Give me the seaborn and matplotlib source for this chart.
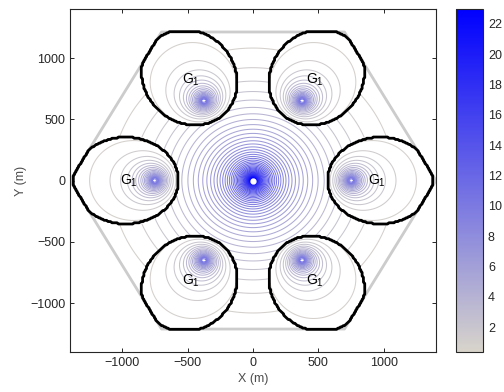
import numpy as np
import matplotlib
matplotlib.use("Agg")
import matplotlib.pyplot as plt
import seaborn as sns

sns.set_style("ticks")
plt.rcParams['font.family'] = ['Liberation Sans', 'DejaVu Sans']
plt.rcParams['mathtext.fontset'] = 'custom'
plt.rcParams['mathtext.rm'] = 'Liberation Sans'

# network layout
hex_radius = 1400.0                      # m, vertex of the cell hexagon
small_dist = 750.0                       # m, macro -> small cell
small_angles = [0, 60, 120, 180, 240, 300]
alpha_macro = 4.0
alpha_small = 2.83
p_small = 2.28e-5                        # small cell power / macro power
noise_macro = 9.3e-13
noise_small = 1e-13
d_min = 19.0
label_dist = 950.0
label_text = r'G$_\mathregular{1}$'

xy_ticks = [-1000, -500, 0, 500, 1000]
cbar_ticks = [2, 4, 6, 8, 10, 12, 14, 16, 18, 20, 22]
low_color = "#d8d4cb"
high_color = "#0000ff"

# grid
step = 10.0
g = np.arange(-hex_radius, hex_radius + step, step)
X, Y = np.meshgrid(g, g)
inside = (np.abs(Y) <= hex_radius * np.sqrt(3) / 2) & \
         (np.sqrt(3) * np.abs(X) + np.abs(Y) <= np.sqrt(3) * hex_radius)

ang = np.deg2rad(small_angles)
sx = small_dist * np.cos(ang)
sy = small_dist * np.sin(ang)

d_m = np.maximum(np.hypot(X, Y), d_min)
s_m = d_m ** -alpha_macro
s_s = np.array([p_small * np.maximum(np.hypot(X - a, Y - b), d_min) ** -alpha_small
                for a, b in zip(sx, sy)])
s_best = s_s.max(axis=0)
small_sum = s_s.sum(axis=0)

# macro users see a flat noise floor, small-cell users see the macro + other small cells
sinr_m = s_m / noise_macro
sinr_s = s_best / (s_m + small_sum - s_best + noise_small)
g1 = (s_best > s_m) & inside
field = np.log2(1 + np.where(g1, sinr_s, sinr_m))
field = np.ma.masked_where(~inside, field)

vmin, vmax = float(field.min()), float(field.max())
levels = np.linspace(vmin, vmax, 48)[1:-1]
cmap = sns.blend_palette([low_color, high_color], as_cmap=True)
norm = matplotlib.colors.Normalize(vmin=vmin, vmax=vmax)

fig = plt.figure(figsize=(5.04, 3.92), dpi=100)
ax = fig.add_axes([0.139, 0.102, 0.726, 0.875])

ax.contour(X, Y, field, levels=levels, cmap=cmap, norm=norm, linewidths=0.75)

hx = hex_radius * np.cos(np.deg2rad(np.arange(0, 361, 60)))
hy = hex_radius * np.sin(np.deg2rad(np.arange(0, 361, 60)))
ax.plot(hx, hy, color="0.8", lw=2, zorder=1)

ax.contour(X, Y, g1.astype(float), levels=[0.5], colors='k', linewidths=2)
ax.plot(0, 0, 'o', color='white', ms=3.5, zorder=5)

for a in ang:
    ax.text(label_dist * np.cos(a), label_dist * np.sin(a), label_text,
            ha='center', va='center', fontsize=10, color='black')

ax.set_xlim(-hex_radius, hex_radius)
ax.set_ylim(-hex_radius, hex_radius)
ax.set_xticks(xy_ticks)
ax.set_yticks(xy_ticks)
ax.tick_params(direction='in', top=True, right=True, labelsize=9,
               length=3, width=0.7, colors='0.15')
for sp in ax.spines.values():
    sp.set_linewidth(0.8)
ax.set_xlabel('X (m)', fontsize=9, color='0.3', labelpad=3)
ax.set_ylabel('Y (m)', fontsize=9, color='0.3', labelpad=2)

cax = fig.add_axes([0.905, 0.102, 0.0536, 0.875])
cb = fig.colorbar(matplotlib.cm.ScalarMappable(norm=norm, cmap=cmap), cax=cax,
                  ticks=cbar_ticks)
cb.outline.set_linewidth(0.8)
cax.tick_params(direction='in', labelsize=9, length=3, width=0.7, colors='0.15')

fig.savefig('out.png', dpi=100)
